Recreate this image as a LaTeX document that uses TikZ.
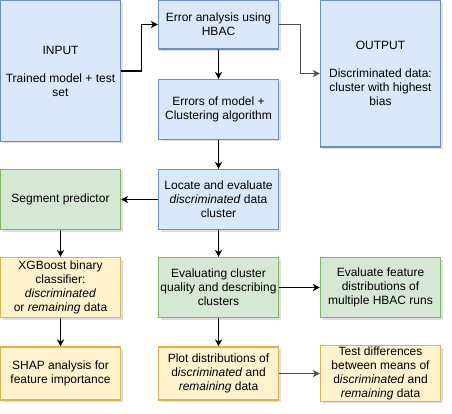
\documentclass[tikz,border=0pt]{standalone}
\usepackage{fontspec}
\setmainfont{Liberation Sans}
\usepackage{tikz}
\usetikzlibrary{arrows.meta,shadows}
\definecolor{bluefill}{HTML}{DAE8FC}
\definecolor{blueline}{HTML}{6C8EBF}
\definecolor{greenfill}{HTML}{D5E8D4}
\definecolor{greenline}{HTML}{82B366}
\definecolor{yellowfill}{HTML}{FFF2CC}
\definecolor{yellowline}{HTML}{D6B656}
\begin{document}
\begin{tikzpicture}[->,>={Stealth[length=7pt,width=7pt,inset=2pt]},x=1pt,y=-1pt,line width=1.1pt,
                    font=\fontsize{12}{14}\selectfont]
  \tikzstyle{every box}=[rectangle,minimum width=120pt,align=center,inner sep=1pt,
                         line width=1.1pt,drop shadow={shadow xshift=2pt,shadow yshift=-2pt,opacity=0.25}]
  \tikzstyle{blue box}=[every box,draw=blueline,fill=bluefill]
  \tikzstyle{green box}=[every box,draw=greenline,fill=greenfill]
  \tikzstyle{yellow box}=[every box,draw=yellowline,fill=yellowfill]
  \tikzstyle{gray arrow}=[draw=black!70]

  \useasboundingbox (0,0) rectangle (452,414);

  \node[blue box,minimum height=141pt]   (input)    at (60.5,71)    {INPUT\\[14pt]Trained model + test\\set};
  \node[blue box,minimum height=49pt]    (hbac)     at (218.5,24.5) {Error analysis using\\HBAC};
  \node[blue box,minimum height=60pt]    (errors)   at (218.5,109.5) {Errors of model +\\Clustering algorithm};
  \node[blue box,minimum height=147pt]   (output)   at (380.5,73.5) {OUTPUT\\[14pt]Discriminated data:\\cluster with highest\\bias};
  \node[blue box,minimum height=60pt]    (locate)   at (218.5,199.5) {Locate and evaluate\\\textit{discriminated} data\\cluster};
  \node[green box,minimum height=60pt]   (segment)  at (60.5,199.5) {Segment predictor};
  \node[yellow box,minimum height=60pt]  (xgboost)  at (60.5,287.5) {XGBoost binary\\classifier:\\\textit{discriminated}\\or \textit{remaining} data};
  \node[green box,minimum height=60pt]   (evalcl)   at (218.5,287.5) {Evaluating cluster\\quality and describing\\clusters};
  \node[green box,minimum height=60pt]   (evalfeat) at (380.5,287.5) {Evaluate feature\\distributions of\\multiple HBAC runs};
  \node[yellow box,minimum height=53pt]  (shap)     at (60.5,373.5) {SHAP analysis for\\feature importance};
  \node[yellow box,minimum height=53pt]  (plot)     at (218.5,373.5) {Plot distributions of\\d\textit{iscriminated} and\\\textit{remaining} data};
  \node[yellow box,minimum height=53pt]  (test)     at (380.5,373.5) {Test differences\\between means of\\d\textit{iscriminated} and\\\textit{remaining} data};

  % bent connectors
  \draw (input.east) -- ++(20,0) |- (hbac.west);
  \draw[gray arrow] (hbac.east) -- ++(21,0) |- (output.west);

  \path (hbac)    edge (errors)
        (errors)  edge (locate)
        (locate)  edge (segment)
                  edge (evalcl)
        (segment) edge (xgboost)
        (xgboost) edge (shap)
        (evalcl)  edge (evalfeat)
                  edge (plot)
        (plot)    edge[gray arrow] (test);

\end{tikzpicture}
\end{document}
